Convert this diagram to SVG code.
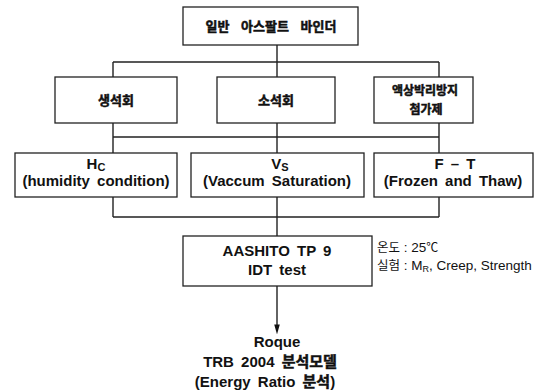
<svg xmlns="http://www.w3.org/2000/svg" width="544" height="392" viewBox="0 0 544 392">
<defs>
<marker id="arr" markerWidth="10" markerHeight="18" refX="10" refY="5" orient="auto" markerUnits="userSpaceOnUse" viewBox="0 0 18 10">
<path d="M0,0 L18,5 L0,10 Z" fill="#111"/>
</marker>
<style>
.box{fill:#fff;stroke:#222;stroke-width:1.3}
.ln{fill:none;stroke:#222;stroke-width:1.4}
.ko{font-family:"Liberation Sans","Noto Sans CJK KR",sans-serif;font-weight:bold;fill:#111;stroke:#111;stroke-width:0.5;text-anchor:middle}
.kb{stroke:#111;stroke-width:0.5}
.en{font-family:"Liberation Sans","Noto Sans CJK KR",sans-serif;font-weight:bold;font-size:15px;fill:#111;text-anchor:middle}
.side{font-family:"Liberation Sans","Noto Sans CJK KR",sans-serif;font-size:13.5px;fill:#111}
</style>
</defs>
<rect width="544" height="392" fill="#fff"/>
<g id="connectors">
<path class="ln" d="M277,45 V62 M113,62 H439 M113,62 V77 M277,62 V77 M439,62 V77"/>
<path class="ln" d="M113,123 V153 M277,123 V153 M439,123 V153 M113,137 H439"/>
<path class="ln" d="M113,197 V217 M277,197 V217 M439,197 V217 M113,217 H439 M277,217 V236"/>
<path class="ln" d="M277,286 V330" marker-end="url(#arr)"/>
</g>
<g id="n-top">
<rect class="box" x="183" y="7" width="175" height="38"/>
<text class="ko" x="271" y="31" font-size="13" word-spacing="8">일반 아스팔트 바인더</text>
</g>
<g id="n-slaked">
<rect class="box" x="55" y="77" width="122" height="46"/>
<text class="ko" x="116" y="105" font-size="13">생석회</text>
</g>
<g id="n-quick">
<rect class="box" x="217" y="77" width="118" height="46"/>
<text class="ko" x="276" y="105" font-size="13">소석회</text>
</g>
<g id="n-anti">
<rect class="box" x="374" y="77" width="99" height="46"/>
<text class="ko" x="425" y="95" font-size="12">액상박리방지</text>
<text class="ko" x="426" y="114" font-size="12">첨가제</text>
</g>
<g id="n-hc">
<rect class="box" x="15" y="153" width="162" height="44"/>
<text class="en" x="96" y="169" font-weight="normal">H<tspan font-size="11" dy="2">C</tspan></text>
<text class="en" x="96" y="186" word-spacing="3">(humidity condition)</text>
</g>
<g id="n-vs">
<rect class="box" x="191" y="153" width="173" height="44"/>
<text class="en" x="280" y="169" font-weight="normal">V<tspan font-size="11" dy="2">S</tspan></text>
<text class="en" x="277" y="186" word-spacing="3">(Vaccum Saturation)</text>
</g>
<g id="n-ft">
<rect class="box" x="374" y="153" width="159" height="44"/>
<text class="en" x="455" y="169" word-spacing="3">F – T</text>
<text class="en" x="453" y="186" word-spacing="3">(Frozen and Thaw)</text>
</g>
<g id="n-idt">
<rect class="box" x="183" y="236" width="189" height="50"/>
<text class="en" x="277" y="256" font-size="16" word-spacing="3">AASHITO TP 9</text>
<text class="en" x="277" y="275" font-size="16" word-spacing="3">IDT test</text>
</g>
<g id="side-notes">
<text class="side" x="377" y="252"><tspan font-size="12.5">온도</tspan> : 25<tspan font-size="12">℃</tspan></text>
<text class="side" x="377" y="270"><tspan font-size="12.5">실험</tspan> : M<tspan font-size="9" dy="2">R</tspan><tspan dy="-2">, Creep, Strength</tspan></text>
</g>
<g id="n-roque">
<text class="en" x="277" y="347">Roque</text>
<text class="en" x="270" y="367" word-spacing="3">TRB 2004 <tspan class="kb">분석모델</tspan></text>
<text class="en" x="265" y="387" word-spacing="3">(Energy Ratio <tspan class="kb">분석</tspan>)</text>
</g>
</svg>
